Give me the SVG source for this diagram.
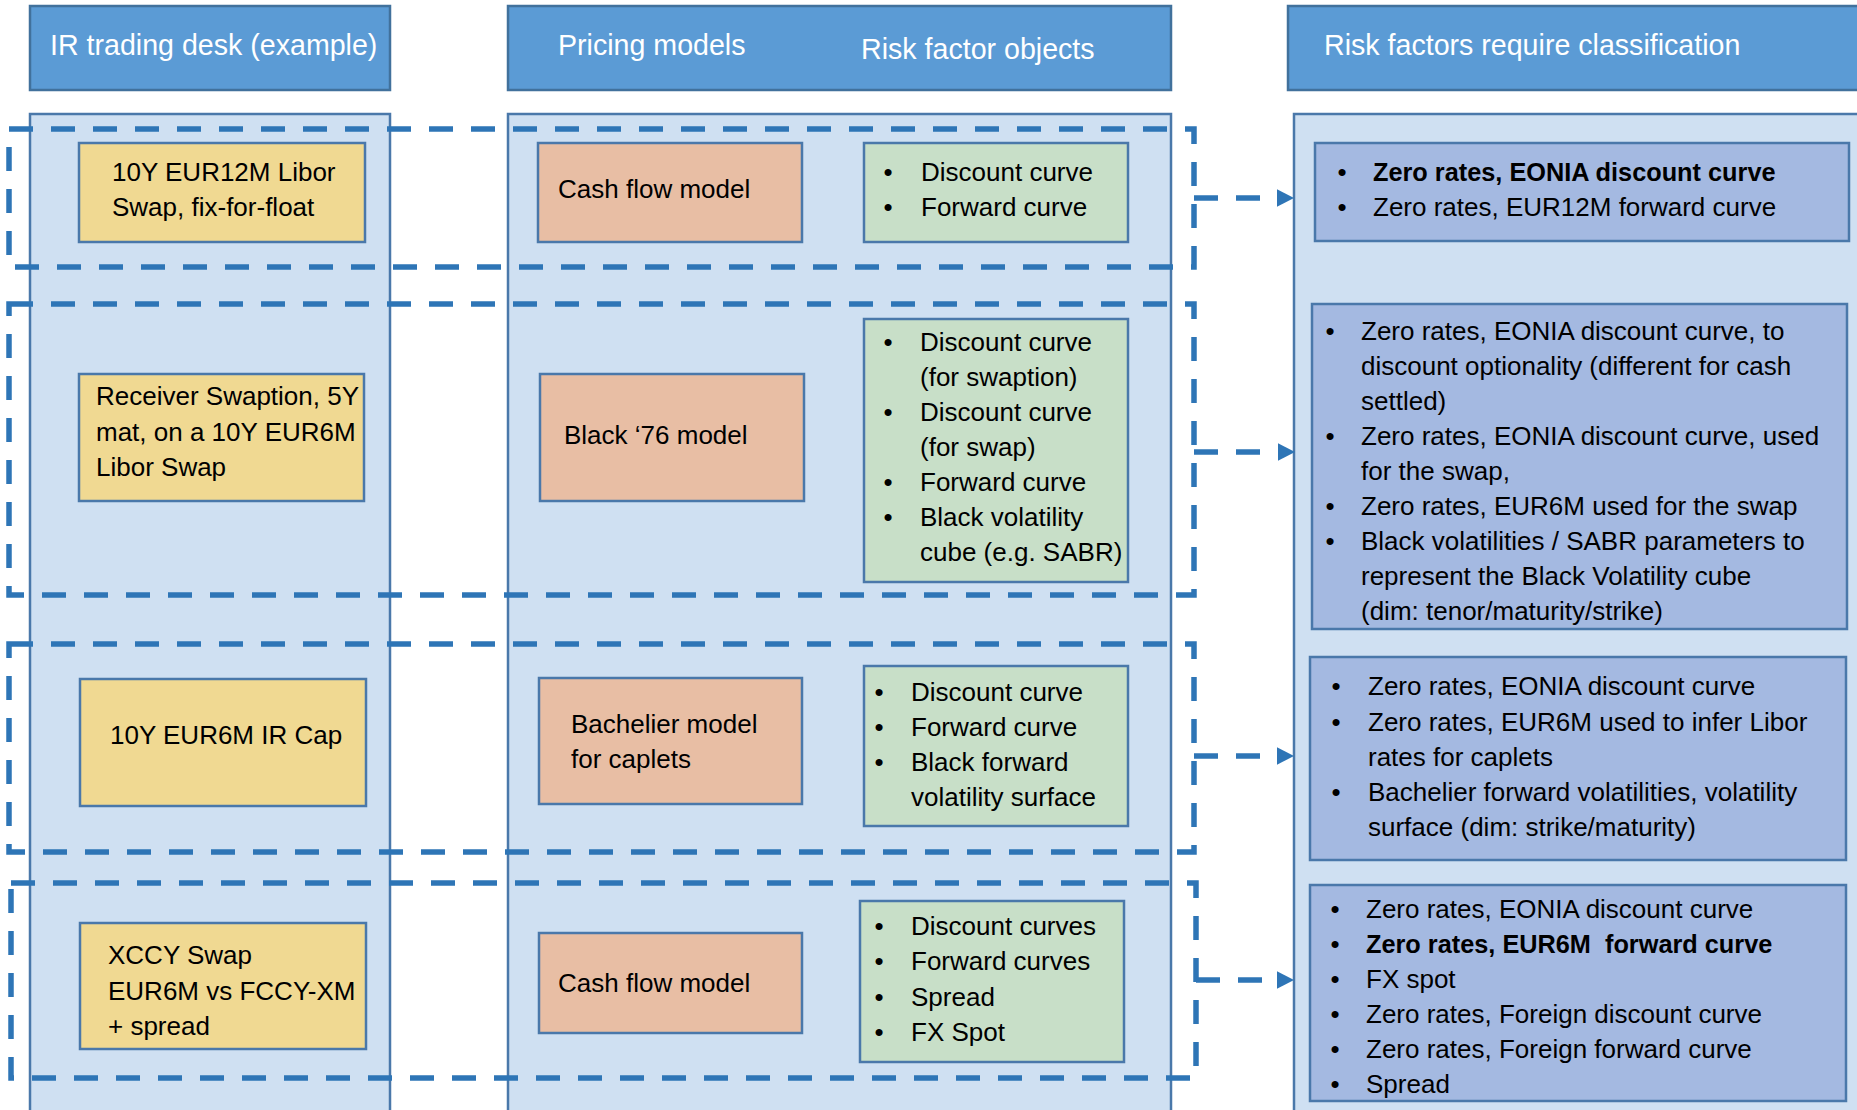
<svg xmlns="http://www.w3.org/2000/svg" width="1857" height="1110" viewBox="0 0 1857 1110">
  <style>
    text { font-family: "Liberation Sans", Arial, sans-serif; fill: #000; }
    .hdr { fill: #5b9bd5; stroke: #41719c; stroke-width: 2.5; }
    .hdr-t { font-size: 28.6px; fill: #ffffff; }
    .col { fill: #cfe0f2; stroke: #4a78aa; stroke-width: 2.5; }
    .trade { fill: #f0d992; stroke: #4a78aa; stroke-width: 2.5; }
    .model { fill: #e8bea4; stroke: #4a78aa; stroke-width: 2.5; }
    .rfo { fill: #c8dfc8; stroke: #4a78aa; stroke-width: 2.5; }
    .rfc { fill: #a4b9e1; stroke: #4a78aa; stroke-width: 2.5; }
    .t { font-size: 26px; }
    .b { font-weight: bold; font-size: 25.3px; }
    .bul { text-anchor: middle; }
    .frame { fill: none; stroke: #2e75b6; stroke-width: 5.5; stroke-dasharray: 24 18; }
    .arrow { fill: none; stroke: #2e75b6; stroke-width: 5.5; stroke-dasharray: 24 18; }
  </style>
  <defs>
    <marker id="head" markerUnits="userSpaceOnUse" markerWidth="18" markerHeight="18" refX="0" refY="8.7" orient="auto">
      <path d="M0,0 L17,8.7 L0,17.4 Z" fill="#2e75b6"/>
    </marker>
  </defs>

  <rect width="1857" height="1110" fill="#ffffff"/>

  <!-- column headers -->
  <g id="header-desk">
    <rect class="hdr" x="30" y="6" width="360" height="84"/>
    <text class="hdr-t" x="50" y="55">IR trading desk (example)</text>
  </g>
  <g id="header-models">
    <rect class="hdr" x="508" y="6" width="663" height="84"/>
    <text class="hdr-t" x="558" y="55">Pricing models</text>
    <text class="hdr-t" x="861" y="59">Risk factor objects</text>
  </g>
  <g id="header-classification">
    <rect class="hdr" x="1288" y="6" width="600" height="84"/>
    <text class="hdr-t" x="1324" y="55">Risk factors require classification</text>
  </g>

  <!-- column backgrounds -->
  <g id="columns">
    <rect class="col" x="30" y="114" width="360" height="1010"/>
    <rect class="col" x="508" y="114" width="663" height="1010"/>
    <rect class="col" x="1294" y="114" width="600" height="1010"/>
  </g>

  <!-- row 1: vanilla swap -->
  <g id="trade-swap">
    <rect class="trade" x="79" y="143" width="286" height="99"/>
    <text class="t" x="112" y="181">10Y EUR12M Libor</text>
    <text class="t" x="112" y="216">Swap, fix-for-float</text>
  </g>
  <g id="model-cashflow-1">
    <rect class="model" x="538" y="143" width="264" height="99"/>
    <text class="t" x="558" y="198">Cash flow model</text>
  </g>
  <g id="objects-swap">
    <rect class="rfo" x="864" y="143" width="264" height="99"/>
    <text class="t bul" x="888" y="181">•</text>
    <text class="t" x="921" y="181">Discount curve</text>
    <text class="t bul" x="888" y="216">•</text>
    <text class="t" x="921" y="216">Forward curve</text>
  </g>
  <g id="factors-swap">
    <rect class="rfc" x="1315" y="143" width="534" height="98"/>
    <text class="t bul" x="1342" y="181">•</text>
    <text class="t b" x="1373" y="181">Zero rates, EONIA discount curve</text>
    <text class="t bul" x="1342" y="216">•</text>
    <text class="t" x="1373" y="216">Zero rates, EUR12M forward curve</text>
  </g>

  <!-- row 2: swaption -->
  <g id="trade-swaption">
    <rect class="trade" x="79" y="374" width="285" height="127"/>
    <text class="t" x="96" y="405">Receiver Swaption, 5Y</text>
    <text class="t" x="96" y="441">mat, on a 10Y EUR6M</text>
    <text class="t" x="96" y="476">Libor Swap</text>
  </g>
  <g id="model-black76">
    <rect class="model" x="540" y="374" width="264" height="127"/>
    <text class="t" x="564" y="444">Black ‘76 model</text>
  </g>
  <g id="objects-swaption">
    <rect class="rfo" x="864" y="319" width="264" height="263"/>
    <text class="t bul" x="888" y="351">•</text>
    <text class="t" x="920" y="351">Discount curve</text>
    <text class="t" x="920" y="386">(for swaption)</text>
    <text class="t bul" x="888" y="421">•</text>
    <text class="t" x="920" y="421">Discount curve</text>
    <text class="t" x="920" y="456">(for swap)</text>
    <text class="t bul" x="888" y="491">•</text>
    <text class="t" x="920" y="491">Forward curve</text>
    <text class="t bul" x="888" y="526">•</text>
    <text class="t" x="920" y="526">Black volatility</text>
    <text class="t" x="920" y="561">cube (e.g. SABR)</text>
  </g>
  <g id="factors-swaption">
    <rect class="rfc" x="1312" y="304" width="535" height="325"/>
    <text class="t bul" x="1330" y="340">•</text>
    <text class="t" x="1361" y="340">Zero rates, EONIA discount curve, to</text>
    <text class="t" x="1361" y="375">discount optionality (different for cash</text>
    <text class="t" x="1361" y="410">settled)</text>
    <text class="t bul" x="1330" y="445">•</text>
    <text class="t" x="1361" y="445">Zero rates, EONIA discount curve, used</text>
    <text class="t" x="1361" y="480">for the swap,</text>
    <text class="t bul" x="1330" y="515">•</text>
    <text class="t" x="1361" y="515">Zero rates, EUR6M used for the swap</text>
    <text class="t bul" x="1330" y="550">•</text>
    <text class="t" x="1361" y="550">Black volatilities / SABR parameters to</text>
    <text class="t" x="1361" y="585">represent the Black Volatility cube</text>
    <text class="t" x="1361" y="620">(dim: tenor/maturity/strike)</text>
  </g>

  <!-- row 3: cap -->
  <g id="trade-cap">
    <rect class="trade" x="80" y="679" width="286" height="127"/>
    <text class="t" x="110" y="744">10Y EUR6M IR Cap</text>
  </g>
  <g id="model-bachelier">
    <rect class="model" x="539" y="678" width="263" height="126"/>
    <text class="t" x="571" y="733">Bachelier model</text>
    <text class="t" x="571" y="768">for caplets</text>
  </g>
  <g id="objects-cap">
    <rect class="rfo" x="864" y="666" width="264" height="160"/>
    <text class="t bul" x="879" y="701">•</text>
    <text class="t" x="911" y="701">Discount curve</text>
    <text class="t bul" x="879" y="736">•</text>
    <text class="t" x="911" y="736">Forward curve</text>
    <text class="t bul" x="879" y="771">•</text>
    <text class="t" x="911" y="771">Black forward</text>
    <text class="t" x="911" y="806">volatility surface</text>
  </g>
  <g id="factors-cap">
    <rect class="rfc" x="1310" y="657" width="536" height="203"/>
    <text class="t bul" x="1336" y="695">•</text>
    <text class="t" x="1368" y="695">Zero rates, EONIA discount curve</text>
    <text class="t bul" x="1336" y="731">•</text>
    <text class="t" x="1368" y="731">Zero rates, EUR6M used to infer Libor</text>
    <text class="t" x="1368" y="766">rates for caplets</text>
    <text class="t bul" x="1336" y="801">•</text>
    <text class="t" x="1368" y="801">Bachelier forward volatilities, volatility</text>
    <text class="t" x="1368" y="836">surface (dim: strike/maturity)</text>
  </g>

  <!-- row 4: cross currency swap -->
  <g id="trade-xccy">
    <rect class="trade" x="80" y="923" width="286" height="126"/>
    <text class="t" x="108" y="964">XCCY Swap</text>
    <text class="t" x="108" y="1000">EUR6M vs FCCY-XM</text>
    <text class="t" x="108" y="1035">+ spread</text>
  </g>
  <g id="model-cashflow-2">
    <rect class="model" x="539" y="933" width="263" height="100"/>
    <text class="t" x="558" y="992">Cash flow model</text>
  </g>
  <g id="objects-xccy">
    <rect class="rfo" x="860" y="901" width="264" height="161"/>
    <text class="t bul" x="879" y="935">•</text>
    <text class="t" x="911" y="935">Discount curves</text>
    <text class="t bul" x="879" y="970">•</text>
    <text class="t" x="911" y="970">Forward curves</text>
    <text class="t bul" x="879" y="1006">•</text>
    <text class="t" x="911" y="1006">Spread</text>
    <text class="t bul" x="879" y="1041">•</text>
    <text class="t" x="911" y="1041">FX Spot</text>
  </g>
  <g id="factors-xccy">
    <rect class="rfc" x="1310" y="885" width="536" height="216"/>
    <text class="t bul" x="1335" y="918">•</text>
    <text class="t" x="1366" y="918">Zero rates, EONIA discount curve</text>
    <text class="t bul" x="1335" y="953">•</text>
    <text class="t b" x="1366" y="953">Zero rates, EUR6M&#160; forward curve</text>
    <text class="t bul" x="1335" y="988">•</text>
    <text class="t" x="1366" y="988">FX spot</text>
    <text class="t bul" x="1335" y="1023">•</text>
    <text class="t" x="1366" y="1023">Zero rates, Foreign discount curve</text>
    <text class="t bul" x="1335" y="1058">•</text>
    <text class="t" x="1366" y="1058">Zero rates, Foreign forward curve</text>
    <text class="t bul" x="1335" y="1093">•</text>
    <text class="t" x="1366" y="1093">Spread</text>
  </g>

  <!-- dashed frames grouping each trade row -->
  <g id="row-frames">
    <rect class="frame" x="9" y="129" width="1185" height="138"/>
    <rect class="frame" x="9" y="304" width="1185" height="291"/>
    <rect class="frame" x="9" y="644" width="1185" height="208"/>
    <rect class="frame" x="11" y="883" width="1185" height="195"/>
  </g>

  <!-- connectors to the classification column -->
  <g id="connectors">
    <path class="arrow" d="M1194,198 H1277" marker-end="url(#head)"/>
    <path class="arrow" d="M1194,452 H1278" marker-end="url(#head)"/>
    <path class="arrow" d="M1194,756 H1277" marker-end="url(#head)"/>
    <path class="arrow" d="M1196,980 H1277" marker-end="url(#head)"/>
  </g>
</svg>
